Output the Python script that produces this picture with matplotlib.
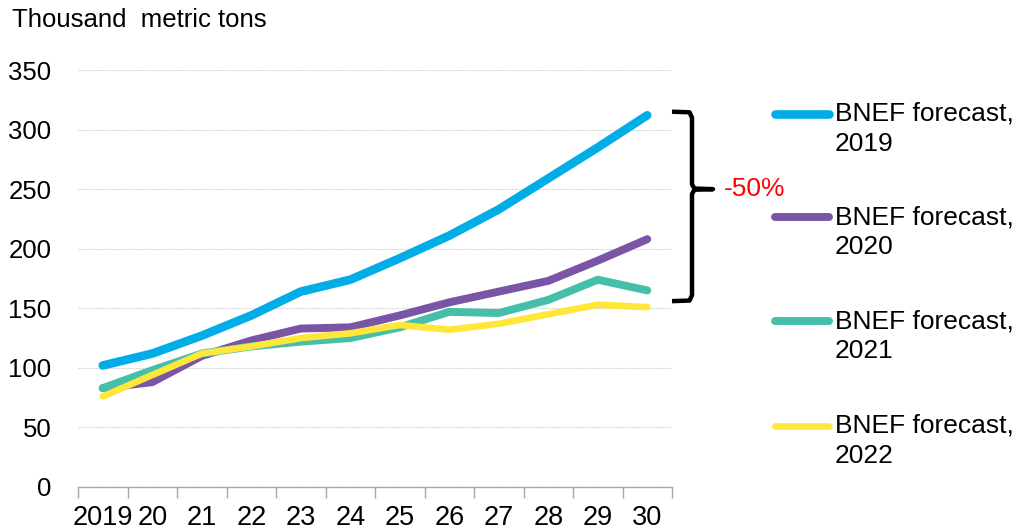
import matplotlib
matplotlib.use("Agg")
import matplotlib.pyplot as plt
from matplotlib.lines import Line2D
import numpy as np

plt.rcParams['font.family'] = ['Liberation Sans', 'DejaVu Sans']

categories = ["2019", "20", "21", "22", "23", "24", "25", "26", "27", "28", "29", "30"]
bnef_2019 = [102, 112, 127, 144, 164, 174, 192, 211, 233, 259, 285, 312]
bnef_2020 = [83, 88, 110, 123, 133, 134, 144, 155, 164, 173, 190, 208]
bnef_2021 = [83, 98, 112, 118, 122, 125, 134, 147, 146, 157, 174, 165]
bnef_2022 = [76, 94, 112, 118, 125, 129, 136, 132, 137, 145, 153, 151]
series_labels = ["BNEF forecast,\n2019", "BNEF forecast,\n2020", "BNEF forecast,\n2021", "BNEF forecast,\n2022"]
colors = ["#00ADE6", "#7A55A6", "#45BFAA", "#FFE63A"]
widths = [6.2, 5.7, 5.7, 4.8]
y_ticks = [0, 50, 100, 150, 200, 250, 300, 350]
change_label = "-50%"
bracket_top, bracket_bottom, bracket_mid = 315, 156, 250

W, H = 1017, 531
fig = plt.figure(figsize=(W / 100, H / 100), dpi=100)
ax = fig.add_axes([78 / W, 1 - 487 / H, (672 - 78) / W, (487 - 70) / H])

x = np.arange(len(categories))
all_series = [bnef_2019, bnef_2020, bnef_2021, bnef_2022]
for vals, c, lw in zip(all_series, colors, widths):
    ax.plot(x, vals, color=c, lw=lw, solid_capstyle='round', solid_joinstyle='round', zorder=3)

ax.set_xlim(-0.5, len(categories) - 0.5)
ax.set_ylim(0, 350)
ax.set_yticks(y_ticks)
ax.set_yticklabels([str(v) for v in y_ticks], fontsize=18.5)
ax.tick_params(axis='y', length=0, pad=19)
ax.yaxis.grid(True, color='#c8c8c8', linestyle=(0, (1, 1)), linewidth=0.8)
ax.set_axisbelow(True)

ax.set_xticks(x)
ax.set_xticklabels(categories, fontsize=19.5)
ax.set_xticks(np.arange(-0.5, len(categories)), minor=True)
ax.tick_params(axis='x', which='major', length=0, pad=13)
ax.tick_params(axis='x', which='minor', length=8, color='#a6a6a6', width=1)

for s in ['top', 'right', 'left']:
    ax.spines[s].set_visible(False)
ax.spines['bottom'].set_color('#a6a6a6')
ax.spines['bottom'].set_linewidth(1)

fig.text(12 / W, 1 - 20 / H, "Thousand  metric tons", fontsize=18.5, va='center', ha='left')

# bracket (curly brace) annotation
def px2x(px):
    return (px - 78) / ((672 - 78) / len(categories)) - 0.5

xa, xv, xt = px2x(672), px2x(692), px2x(713)
bx = [xa, xv - 0.05, xv, xv, xv + 0.05, xt, xv + 0.05, xv, xv, xv - 0.05, xa]
by = [bracket_top, bracket_top - 0.5, bracket_top - 5, bracket_mid + 4, bracket_mid + 0.5, bracket_mid,
      bracket_mid - 0.5, bracket_mid - 4, bracket_bottom + 5, bracket_bottom + 0.5, bracket_bottom]
ax.plot(bx, by, color='black', lw=3.2, clip_on=False, solid_joinstyle='round', solid_capstyle='butt')
ax.text(px2x(724), bracket_mid, change_label, color='#FF0000', fontsize=19, va='center', ha='left', clip_on=False)

# legend
leg_y = [114, 217, 321, 426]
for lbl, c, lw, ly in zip(series_labels, colors, widths, leg_y):
    yy = 1 - ly / H
    fig.add_artist(Line2D([775 / W, 829 / W], [yy, yy], color=c, lw=lw, solid_capstyle='round',
                          transform=fig.transFigure))
    l1, l2 = lbl.split("\n")
    fig.text(835 / W, yy, l1, fontsize=19, va='center', ha='left')
    fig.text(835 / W, 1 - (ly + 30) / H, l2, fontsize=19, va='center', ha='left')

fig.savefig("out.png", dpi=100)
